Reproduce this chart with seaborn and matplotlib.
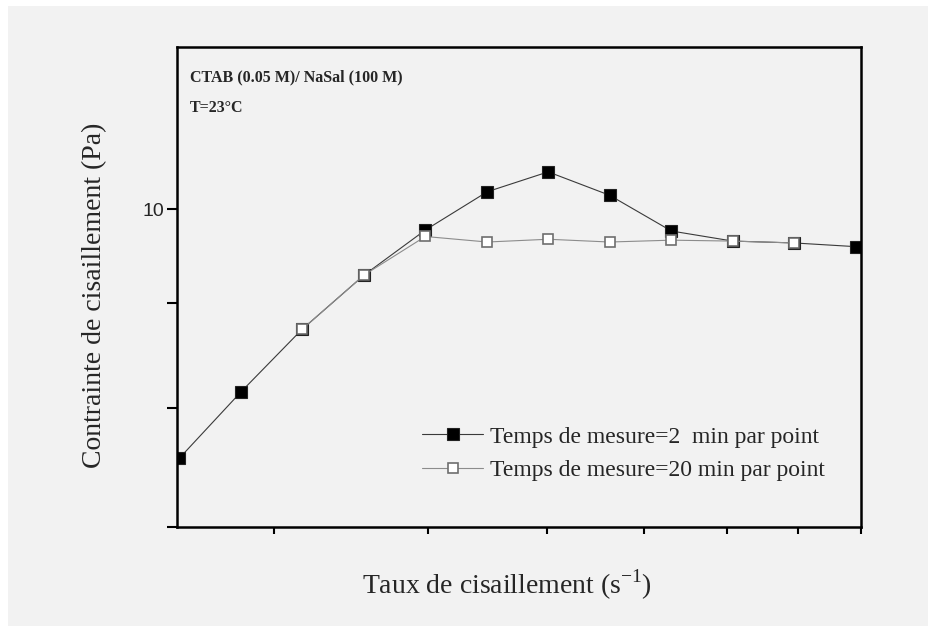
import seaborn as sns
import matplotlib.pyplot as plt
import matplotlib.patches as patches
import pandas as pd

# shear rate values (log axis, no labels shown on the original)
shear_rate = [2.51, 2.82, 3.16, 3.55, 3.98, 4.47, 5.01, 5.62, 6.31, 7.08, 7.94, 8.91]
# stress with 2 min per point
stress_2min = [7.56, 8.15, 8.74, 9.29, 9.77, 10.20, 10.43, 10.16, 9.76, 9.65, 9.63, 9.59]
# stress with 20 min per point (starts at the third rate, stops before the last one)
shear_rate_20 = [3.16, 3.55, 3.98, 4.47, 5.01, 5.62, 6.31, 7.08, 7.94]
stress_20min = [8.74, 9.29, 9.70, 9.64, 9.67, 9.64, 9.66, 9.65, 9.63]

x_ticks = [3, 4, 5, 6, 7, 8, 9]
y_ticks = [7, 8, 9, 10]
y_tick_labels = ["", "", "", "10"]

label_2 = "Temps de mesure=2  min par point"
label_20 = "Temps de mesure=20 min par point"

df_2 = pd.DataFrame({"rate": shear_rate, "stress": stress_2min})
df_20 = pd.DataFrame({"rate": shear_rate_20, "stress": stress_20min})

sns.set_style("ticks")
plt.rcParams['font.family'] = ['Liberation Serif', 'DejaVu Serif']
plt.rcParams['mathtext.fontset'] = 'custom'
plt.rcParams['mathtext.rm'] = 'Liberation Serif'

fig = plt.figure(figsize=(9.29, 6.26), dpi=100, facecolor="white")
# light gray panel behind everything (thin white border on top/left)
fig.patches.append(patches.Rectangle((8 / 929, 0), 1, 1 - 6 / 626,
                                     transform=fig.transFigure,
                                     facecolor="#f2f2f2", edgecolor="none", zorder=-10))
ax = fig.add_axes([177 / 929, 1 - 527 / 626, 684 / 929, 480 / 626])
ax.set_facecolor("#f2f2f2")

sns.lineplot(data=df_2, x="rate", y="stress", ax=ax, sort=False,
             color="#3a3a3a", linewidth=0.8, marker="s", markersize=8,
             markerfacecolor="black", markeredgecolor="#222222",
             markeredgewidth=0.8, label=label_2)
sns.lineplot(data=df_20, x="rate", y="stress", ax=ax, sort=False,
             color="#8c8c8c", linewidth=0.8, marker="s", markersize=7.5,
             markerfacecolor="white", markeredgecolor="#6e6e6e",
             markeredgewidth=1.2, label=label_20)

# log axes
ax.set_xscale("log")
ax.set_yscale("log")
ax.set_xlim(2.5, 9)
ax.set_ylim(7, 12)
ax.set_xticks(x_ticks)
ax.set_xticklabels([""] * len(x_ticks))
ax.set_yticks(y_ticks)
ax.set_yticklabels(y_tick_labels, fontfamily="Liberation Sans", fontsize=14)
ax.minorticks_off()
ax.tick_params(axis="x", direction="out", length=5, width=1.5, color="black")
ax.tick_params(axis="y", direction="out", length=7, width=1.5, color="black", pad=2)

for side in ["top", "bottom", "left", "right"]:
    ax.spines[side].set_visible(True)
    ax.spines[side].set_linewidth(1.8)
    ax.spines[side].set_color("black")

ax.set_xlabel("Taux de cisaillement (s$^{\\mathregular{-1}}$)", fontsize=20)
ax.xaxis.set_label_coords(0.4825, -0.085)
ax.set_ylabel("Contrainte de cisaillement (Pa)", fontsize=20)
ax.yaxis.set_label_coords(-0.102, 0.483)

# sample description in the top left corner
fig.text(190 / 929, 1 - 81 / 626, "CTAB (0.05 M)/ NaSal (100 M)",
         fontsize=11.5, fontweight="bold", va="baseline")
fig.text(190 / 929, 1 - 112 / 626, "T=23°C",
         fontsize=11.5, fontweight="bold", va="baseline")

ax.legend(loc="upper left", bbox_to_anchor=(0.358, 0.21), frameon=False,
          fontsize=17, handlelength=2.6, handletextpad=0.3, labelspacing=0.5,
          borderpad=0, borderaxespad=0, numpoints=1)

fig.savefig("out.png", dpi=100, facecolor=fig.get_facecolor())
